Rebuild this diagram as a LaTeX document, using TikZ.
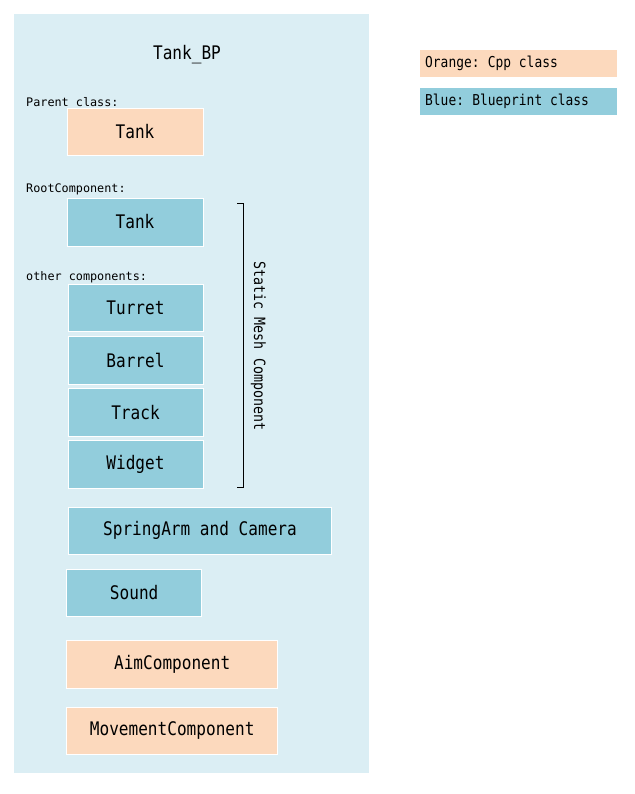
\documentclass[tikz,border=0pt]{standalone}
\usepackage{fontspec}
\newfontfamily\bigf[FakeStretch=0.86]{DejaVu Sans Mono}
\newfontfamily\smf{DejaVu Sans Mono}
\definecolor{bgblue}{HTML}{DBEEF4}
\definecolor{bpblue}{HTML}{92CDDC}
\definecolor{cpporange}{HTML}{FCD9BD}
\begin{document}
\begin{tikzpicture}[x=1pt,y=-1pt,
  box/.style={draw=white,line width=0.8pt,inner sep=0pt,font=\bigf\fontsize{18.7}{20}\selectfont,text=black},
  bpbox/.style={box,fill=bpblue},
  cppbox/.style={box,fill=cpporange},
  lbl/.style={anchor=west,inner sep=0pt,font=\smf\fontsize{11.8}{13}\selectfont},
  legend/.style={anchor=west,inner sep=0pt,font=\bigf\fontsize{15}{17}\selectfont}]
\useasboundingbox (0,0) rectangle (634,794);
\fill[bgblue] (14,14) rectangle (369,773);
\node[font=\bigf\fontsize{18.7}{20}\selectfont] (title) at (187,55) {Tank\_BP};
\node[lbl] (lparent) at (26,102) {Parent class:};
\node[cppbox,minimum width=136pt,minimum height=47pt] (parent) at (135,131.5) {Tank};
\node[lbl] (lroot) at (26,189) {RootComponent:};
\node[bpbox,minimum width=136pt,minimum height=48pt] (root) at (135,222) {Tank};
\node[lbl] (lother) at (26,277) {other components:};
\node[bpbox,minimum width=135pt,minimum height=47pt] (turret) at (135.5,307.8) {Turret};
\node[bpbox,minimum width=135pt,minimum height=47.5pt] (barrel) at (135.5,360.2) {Barrel};
\node[bpbox,minimum width=135pt,minimum height=47.5pt] (track) at (135.5,412.2) {Track};
\node[bpbox,minimum width=135pt,minimum height=48pt] (widget) at (135.5,464.3) {Widget};
\node[bpbox,minimum width=263.5pt,minimum height=47pt] (spring) at (200,530.8) {SpringArm and Camera};
\node[bpbox,minimum width=135pt,minimum height=47pt] (sound) at (134.2,592.8) {Sound};
\node[cppbox,minimum width=211pt,minimum height=48pt] (aim) at (172.2,664.3) {AimComponent};
\node[cppbox,minimum width=211pt,minimum height=47pt] (move) at (172.2,730.8) {MovementComponent};
\coordinate (bt) at (243,203.5);
\coordinate (bb) at (243,487.7);
\draw[line width=0.9pt,black] ([xshift=-6pt]bt) -- (bt) -- (bb) -- ([xshift=-6pt]bb);
\node[font=\bigf\fontsize{15.5}{17}\selectfont,rotate=-90] (smc) at (258.5,346) {Static Mesh Component};
\fill[cpporange] (420,50) rectangle (616.7,76.7);
\node[legend] (lorange) at (425,63.3) {Orange:\hspace{-2pt} Cpp class};
\fill[bpblue] (420,87.7) rectangle (616.7,115);
\node[legend] (lblue) at (425,101.3) {Blue:\hspace{-2pt} Blueprint class};
\end{tikzpicture}
\end{document}
